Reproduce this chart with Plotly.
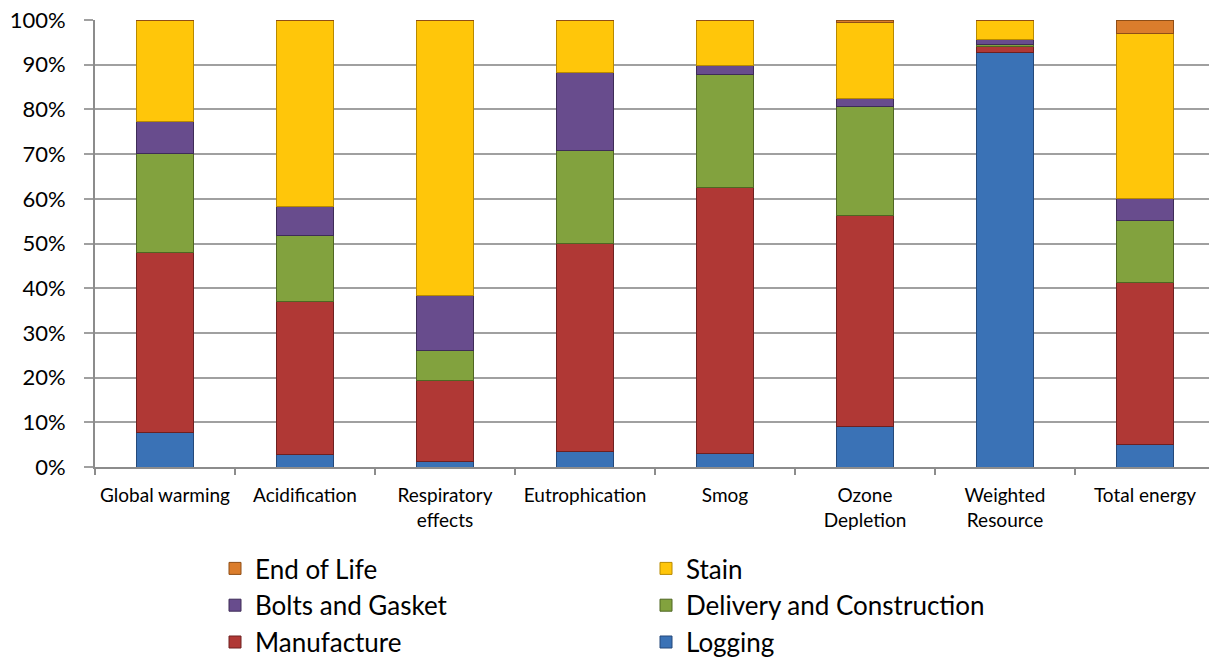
import plotly.graph_objects as go

categories = ["Global warming", "Acidification", "Respiratory<br>effects", "Eutrophication",
              "Smog", "Ozone<br>Depletion", "Weighted<br>Resource", "Total energy"]

logging = [7.7, 2.8, 1.2, 3.5, 3.1, 9.1, 92.7, 5.1]
manufacture = [40.3, 34.3, 18.1, 46.6, 59.5, 47.2, 1.3, 36.1]
delivery = [22.1, 14.8, 6.8, 20.7, 25.1, 24.4, 0.6, 13.9]
bolts = [7.3, 6.4, 12.3, 17.4, 2.2, 1.7, 1.1, 5.0]
stain = [22.6, 41.7, 61.6, 11.8, 10.1, 17.0, 4.3, 36.9]
end_of_life = [0.0, 0.0, 0.0, 0.0, 0.0, 0.6, 0.0, 3.0]

yticks = [0, 10, 20, 30, 40, 50, 60, 70, 80, 90, 100]
ytick_labels = [f"{v}%" for v in yticks]

series = [
    ("Logging", logging, "#3A72B6", "#24497A"),
    ("Manufacture", manufacture, "#B03835", "#6E2020"),
    ("Delivery and Construction", delivery, "#82A23E", "#4F6622"),
    ("Bolts and Gasket", bolts, "#684C8D", "#3E2C57"),
    ("Stain", stain, "#FFC60A", "#B88A00"),
    ("End of Life", end_of_life, "#DB7D2C", "#8F4E16"),
]

fig = go.Figure()
for name, vals, color, edge in series:
    fig.add_trace(go.Bar(
        x=categories, y=vals, name=name,
        marker=dict(color=color, line=dict(color=edge, width=1)),
        width=0.41,
    ))

W, H = 1209, 658
ml, mt, mb = 95, 20, 191
pw = W - ml
ph = H - mt - mb

fig.update_layout(
    width=W, height=H,
    barmode="stack",
    plot_bgcolor="white", paper_bgcolor="white",
    margin=dict(l=ml, r=0, t=mt, b=mb, autoexpand=False),
    font=dict(family="Lato, Open Sans, sans-serif", color="#000000"),
    xaxis=dict(
        type="category",
        range=[-0.5, -0.5 + pw / 140.0],
        showline=True, linecolor="#8C8C8C", linewidth=2,
        ticks="outside", tickson="boundaries", ticklen=6, tickcolor="#8C8C8C", tickwidth=2,
        tickfont=dict(size=19),
        tickangle=0,
        ticklabelstandoff=10,
        showgrid=False,
        automargin=False,
    ),
    yaxis=dict(
        range=[0, 100],
        tickvals=yticks, ticktext=ytick_labels,
        tickfont=dict(size=22),
        showline=True, linecolor="#8C8C8C", linewidth=2,
        ticks="outside", ticklen=9, tickcolor="#A0A0A0", tickwidth=2,
        ticklabelstandoff=14,
        showgrid=True, gridcolor="#A0A0A0", gridwidth=2,
        zeroline=False,
        automargin=False,
    ),
    legend=dict(
        orientation="h", traceorder="reversed",
        x=(215 - ml) / pw, xanchor="left",
        yref="container",
        y=1 - 545 / H, yanchor="top",
        entrywidth=386, entrywidthmode="pixels",
        font=dict(size=26),
        bgcolor="rgba(0,0,0,0)",
    ),
    showlegend=True,
)

fig.write_html("out.html")
